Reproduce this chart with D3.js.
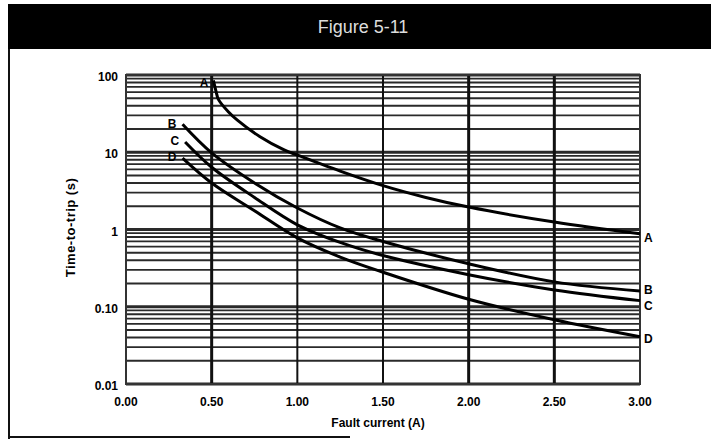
<!DOCTYPE html>
<html>
<head>
<meta charset="utf-8">
<script src="https://cdn.jsdelivr.net/npm/d3@7"></script>
<style>
  body { margin: 0; background: #fff; }
  text { font-family: "Liberation Sans", Arial, sans-serif; }
</style>
</head>
<body>
<div id="chart"></div>
<script>
// data
const titleText = "Figure 5-11";
const xLabel = "Fault current (A)";
const yLabel = "Time-to-trip (s)";
const xTicks = [0, 0.5, 1, 1.5, 2, 2.5, 3];
const yTicks = [0.01, 0.1, 1, 10, 100];
const yTickText = ["0.01", "0.10", "1", "10", "100"];

const seriesNames = ["A", "B", "C", "D"];
const currentA = [0.51, 0.525, 0.54, 0.6, 0.65, 0.78, 0.92, 1.0, 1.25, 1.5, 1.75, 2.0, 2.5, 3.0];
const timeA    = [85, 62, 48, 33, 26, 16, 10.8, 9.2, 5.7, 3.7, 2.6, 1.95, 1.25, 0.88];
const currentB = [0.33, 0.5, 0.75, 1.0, 1.25, 1.5, 2.0, 2.5, 3.0];
const timeB    = [23, 9.8, 4.0, 1.9, 1.05, 0.7, 0.36, 0.21, 0.16];
const currentC = [0.345, 0.5, 0.75, 1.0, 1.25, 1.5, 2.0, 2.5, 3.0];
const timeC    = [13.6, 6.4, 2.6, 1.15, 0.68, 0.46, 0.26, 0.165, 0.12];
const currentD = [0.33, 0.5, 0.75, 1.0, 1.25, 1.5, 2.0, 2.5, 3.0];
const timeD    = [8.4, 4.0, 1.75, 0.78, 0.44, 0.28, 0.125, 0.068, 0.041];

const W = 711, H = 439;
const margin = { top: 75, right: 71, bottom: 55, left: 126 };
const width = W - margin.left - margin.right,
      height = H - margin.top - margin.bottom;

const root = d3.select("#chart").append("svg")
  .attr("width", W).attr("height", H);

// page frame + title bar
root.append("rect").attr("x", 8).attr("y", 4).attr("width", W - 8).attr("height", 45).attr("fill", "#000");
root.append("line").attr("x1", 9).attr("x2", 9).attr("y1", 49).attr("y2", H)
  .attr("stroke", "#111").attr("stroke-width", 2);
root.append("line").attr("x1", 9).attr("x2", 350).attr("y1", 437).attr("y2", 437)
  .attr("stroke", "#111").attr("stroke-width", 2);
root.append("text")
  .attr("x", 363).attr("y", 27).attr("dy", "0.35em")
  .attr("text-anchor", "middle")
  .style("font-size", "18px").style("fill", "#ddd")
  .text(titleText);

const svg = root.append("g").attr("transform", `translate(${margin.left},${margin.top})`);

const x = d3.scaleLinear().domain([0, 3]).range([0, width]);
const y = d3.scaleLog().domain([0.01, 100]).range([height, 0]);

// horizontal log grid (1..9 per decade)
const isDecade = v => Math.abs(Math.log10(v) - Math.round(Math.log10(v))) < 1e-6;
svg.append("g").selectAll("line")
  .data(y.ticks())
  .enter().append("line")
  .attr("x1", 0).attr("x2", width)
  .attr("y1", d => y(d)).attr("y2", d => y(d))
  .attr("stroke", "#2a2a2a")
  .attr("stroke-width", d => isDecade(d) ? 3 : 1.8);

// vertical grid
const thickV = [0.5, 2, 2.5];
svg.append("g").selectAll("line")
  .data(xTicks.slice(1, -1))
  .enter().append("line")
  .attr("x1", d => x(d)).attr("x2", d => x(d))
  .attr("y1", 0).attr("y2", height)
  .attr("stroke", "#111")
  .attr("stroke-width", d => thickV.includes(d) ? 3 : 2);

// plot frame
svg.append("rect")
  .attr("width", width).attr("height", height)
  .attr("fill", "none").attr("stroke", "#333").attr("stroke-width", 2);

// curves
const series = [
  { name: "A", xs: currentA, ys: timeA },
  { name: "B", xs: currentB, ys: timeB },
  { name: "C", xs: currentC, ys: timeC },
  { name: "D", xs: currentD, ys: timeD }
].map(s => ({ name: s.name, pts: s.xs.map((v, i) => [v, s.ys[i]]) }));

const line = d3.line()
  .x(d => x(d[0])).y(d => y(d[1]))
  .curve(d3.curveCatmullRom.alpha(0.5));

svg.append("g").selectAll("path")
  .data(series)
  .enter().append("path")
  .attr("d", d => line(d.pts))
  .attr("fill", "none")
  .attr("stroke", "#000")
  .attr("stroke-width", 3);

// curve labels at right end
const endShift = { A: 4, B: -1, C: 5, D: 2 };
svg.append("g").selectAll("text")
  .data(series)
  .enter().append("text")
  .attr("x", width + 4)
  .attr("y", d => y(d.pts[d.pts.length - 1][1]) + endShift[d.name])
  .attr("dy", "0.35em")
  .style("font-size", "12px").style("font-weight", "bold")
  .text(d => d.name);

// curve labels at left start
svg.append("g").selectAll("text")
  .data(series)
  .enter().append("text")
  .attr("x", d => x(d.pts[0][0]) - (d.name === "A" ? 5 : 6))
  .attr("y", d => y(d.pts[0][1]) + (d.name === "A" ? 2 : -1))
  .attr("dy", "0.35em")
  .attr("text-anchor", "end")
  .style("font-size", "12px").style("font-weight", "bold")
  .text(d => d.name);

// axes labels
svg.append("g").selectAll("text")
  .data(xTicks)
  .enter().append("text")
  .attr("x", d => x(d)).attr("y", height + 22)
  .attr("text-anchor", "middle")
  .style("font-size", "12px").style("font-weight", "bold")
  .text(d => d3.format(".2f")(d));

svg.append("g").selectAll("text")
  .data(yTicks)
  .enter().append("text")
  .attr("x", -8).attr("y", d => y(d) + 2)
  .attr("dy", "0.35em")
  .attr("text-anchor", "end")
  .style("font-size", "12px").style("font-weight", "bold")
  .text((d, i) => yTickText[i]);

svg.append("text")
  .attr("x", width / 2 - 5).attr("y", height + 43)
  .attr("text-anchor", "middle")
  .style("font-size", "12px").style("font-weight", "bold")
  .text(xLabel);

svg.append("text")
  .attr("transform", `translate(-51,${y(1) - 2}) rotate(-90)`)
  .attr("text-anchor", "middle")
  .style("font-size", "13px").style("font-weight", "bold")
  .style("letter-spacing", "0.5px")
  .text(yLabel);
</script>
</body>
</html>
